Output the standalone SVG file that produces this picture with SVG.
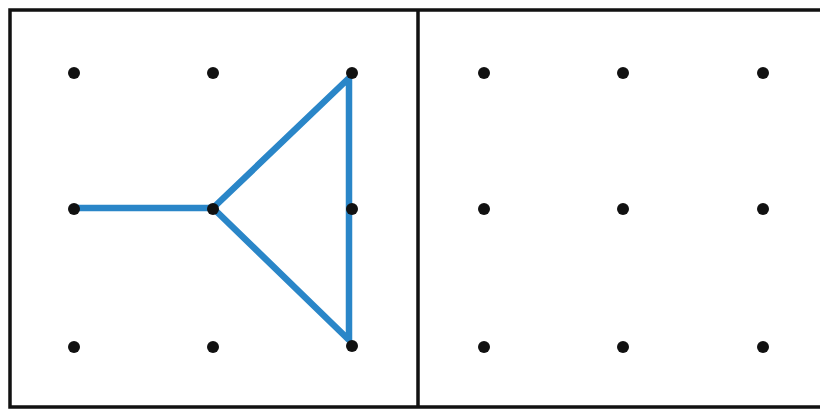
<svg xmlns="http://www.w3.org/2000/svg" width="820" height="410" viewBox="0 0 820 410">
<style>
.frame{fill:none;stroke:#111;stroke-width:3.5}
.dot{fill:#111}
.blue{fill:none;stroke:#2a86c8;stroke-width:6.5;stroke-linecap:round;stroke-linejoin:round}
</style>
<rect width="820" height="410" fill="#fff"/>
<g id="frame">
<polyline class="frame" points="822,10 10,10 10,407 822,407"/>
<line class="frame" x1="418" y1="10" x2="418" y2="407"/>
</g>
<g id="connectors">
<polyline class="blue" points="73,208 213,208 349,78 349,340 213,208"/>
</g>
<g id="left-dots">
<circle class="dot" cx="74" cy="73" r="6"/>
<circle class="dot" cx="213" cy="73" r="6"/>
<circle class="dot" cx="352" cy="73" r="6"/>
<circle class="dot" cx="74" cy="209" r="6"/>
<circle class="dot" cx="213" cy="209" r="6"/>
<circle class="dot" cx="352" cy="209" r="6"/>
<circle class="dot" cx="74" cy="347" r="6"/>
<circle class="dot" cx="213" cy="347" r="6"/>
<circle class="dot" cx="352" cy="346" r="6"/>
</g>
<g id="right-dots">
<circle class="dot" cx="484" cy="73" r="6"/>
<circle class="dot" cx="623" cy="73" r="6"/>
<circle class="dot" cx="763" cy="73" r="6"/>
<circle class="dot" cx="484" cy="209" r="6"/>
<circle class="dot" cx="623" cy="209" r="6"/>
<circle class="dot" cx="763" cy="209" r="6"/>
<circle class="dot" cx="484" cy="347" r="6"/>
<circle class="dot" cx="623" cy="347" r="6"/>
<circle class="dot" cx="763" cy="347" r="6"/>
</g>
</svg>
